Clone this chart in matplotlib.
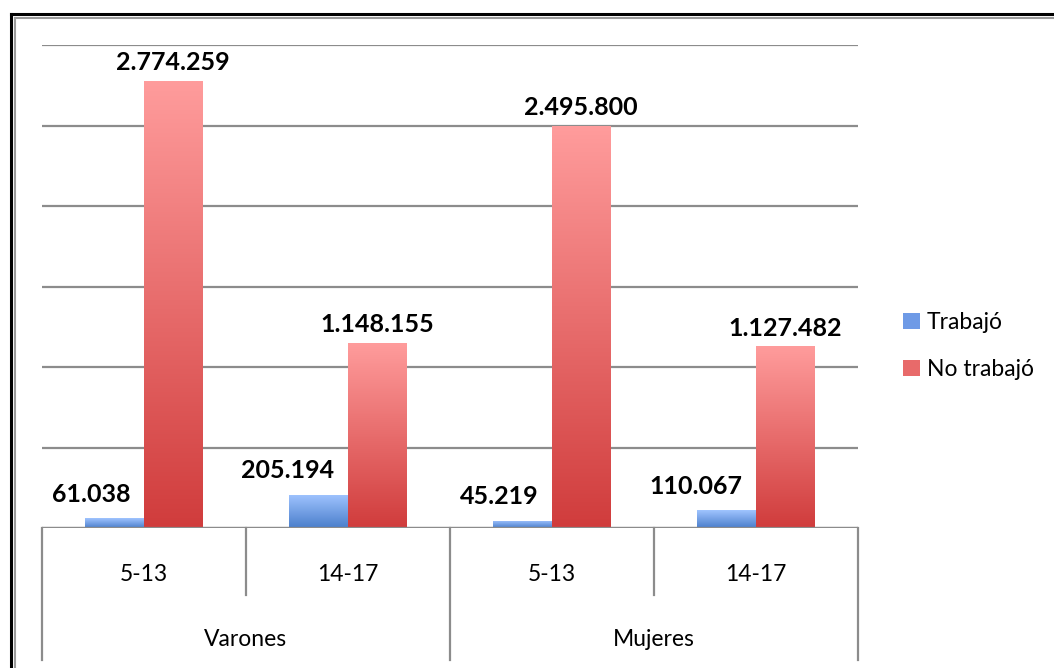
import matplotlib
matplotlib.use('Agg')
import matplotlib.pyplot as plt
import numpy as np
from matplotlib.colors import LinearSegmentedColormap
from matplotlib.lines import Line2D
from matplotlib.patches import Patch

plt.rcParams['font.family'] = ['Lato', 'DejaVu Sans']

# datos
grupos = ['Varones', 'Mujeres']
edades = ['5-13', '14-17', '5-13', '14-17']
trabajo = [61038, 205194, 45219, 110067]
no_trabajo = [2774259, 1148155, 2495800, 1127482]
series = ['Trabajó', 'No trabajó']

# colores degradados (abajo oscuro, arriba claro)
azul = ('#4a7ecb', '#a0c4ff')
rojo = ('#d03c3c', '#ff9c9c')

W, H = 1054, 668
fig = plt.figure(figsize=(W / 100, H / 100), dpi=100)
ax = fig.add_axes([42 / W, (H - 528) / H, (858 - 42) / W, (528 - 45) / H])

x = np.arange(len(edades)) + 0.5
w = 0.287

def barras_degradado(xs, vals, cols):
    cmap = LinearSegmentedColormap.from_list('g', list(cols))
    bars = ax.bar(xs, vals, w, color=cols[0], zorder=2, linewidth=0)
    grad = np.linspace(0, 1, 256).reshape(-1, 1)
    for b in bars:
        x0, y0 = b.get_x(), b.get_y()
        im = ax.imshow(grad, extent=[x0, x0 + b.get_width(), y0, y0 + b.get_height()],
                       origin='lower', cmap=cmap, aspect='auto', zorder=3)
        im.set_clip_path(b)
    return bars

b1 = barras_degradado(x - w / 2, trabajo, azul)
b2 = barras_degradado(x + w / 2, no_trabajo, rojo)

ax.set_xlim(0, 4)
ax.set_ylim(0, 3000000)
ax.set_yticks(np.arange(0, 3000001, 500000))
ax.set_xticks([])
ax.tick_params(left=False, labelleft=False)
ax.yaxis.grid(True, color='#8c8c8c', lw=1.6)
ax.set_axisbelow(True)
for s in ax.spines.values():
    s.set_visible(False)
ax.axhline(0, color='#8c8c8c', lw=1.6, zorder=4)

fmt = lambda v: f"{v:,}".replace(',', '.')
for b, v in zip(b1, trabajo):
    ax.annotate(fmt(v), (b.get_x() + b.get_width(), v), xytext=(-10, 9),
                textcoords='offset points', ha='right', va='bottom',
                fontsize=18, fontweight='bold')
for b, v in zip(b2, no_trabajo):
    ax.annotate(fmt(v), (b.get_x() + b.get_width() / 2, v), xytext=(0, 5),
                textcoords='offset points', ha='center', va='bottom',
                fontsize=18, fontweight='bold')

# eje de categorías en dos niveles
tr = ax.get_xaxis_transform()
for i in range(len(edades) + 1):
    largo = -0.273 if i % 2 == 0 else -0.139
    ax.plot([i, i], [0, largo], transform=tr, color='#8c8c8c', lw=1.6, clip_on=False)
for xi, e in zip(x, edades):
    ax.text(xi, -0.097, e, transform=tr, ha='center', va='center', fontsize=16.5)
for j, g in enumerate(grupos):
    ax.text(2 * j + 1, -0.23, g, transform=tr, ha='center', va='center', fontsize=16.5)

handles = [Patch(facecolor='#6e9ae6'), Patch(facecolor='#e86a6a')]
fig.legend(handles, series, loc='center left', bbox_to_anchor=(882 / W, (H - 346) / H),
           frameon=False, fontsize=16.5, handlelength=0.75, handleheight=0.7,
           handletextpad=0.3, labelspacing=1.15)

# marco
fig.add_artist(Line2D([11 / W, 11 / W], [0, (H - 14) / H], color='black', lw=2.2))
fig.add_artist(Line2D([11 / W, 1], [(H - 14) / H, (H - 14) / H], color='black', lw=2.2))
fig.add_artist(Line2D([14.5 / W, 14.5 / W], [0, (H - 17.5) / H], color='#9a9a9a', lw=1.5))
fig.add_artist(Line2D([14.5 / W, 1], [(H - 17.5) / H, (H - 17.5) / H], color='#9a9a9a', lw=1.5))

fig.savefig('out.png', dpi=100)
